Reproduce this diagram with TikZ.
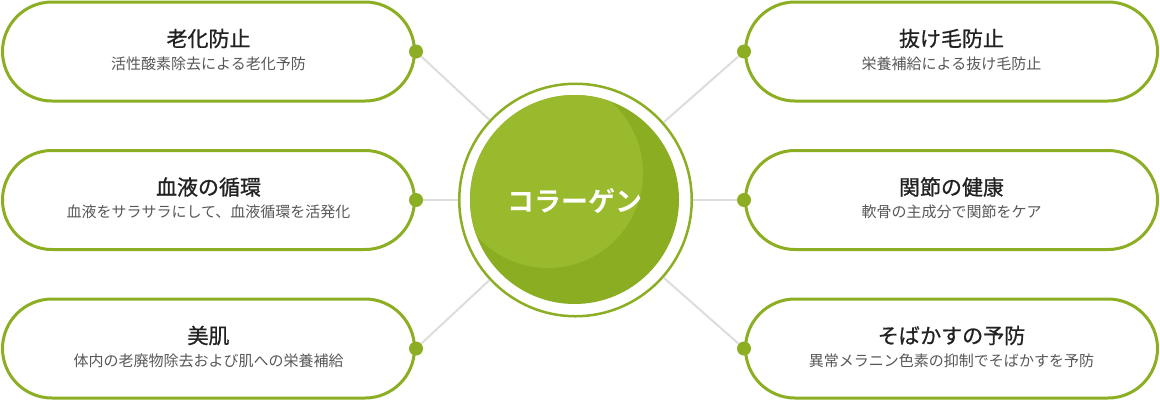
\documentclass[tikz,border=0pt]{standalone}
\usepackage{fontspec}
\newfontfamily\jp{Noto Sans CJK JP}
\newfontfamily\jpt[FakeBold=0.8]{Noto Sans CJK JP}
\newfontfamily\jpb{Noto Sans CJK JP Bold}
\definecolor{grn}{HTML}{8CAE22}
\definecolor{grndark}{HTML}{8BAD21}
\definecolor{grnlight}{HTML}{99BA2D}
\definecolor{conngray}{HTML}{DDDDDD}
\definecolor{titlec}{HTML}{222222}
\definecolor{subc}{HTML}{585858}
\begin{document}
\begin{tikzpicture}[x=1pt,y=-1pt,
  pill/.style={draw=grn, line width=3pt, fill=white, rounded corners=49.5pt,
    minimum width=412pt, minimum height=99pt, inner sep=0pt},
  dotnode/.style={circle, fill=grn, minimum size=14pt, inner sep=0pt},
  conn/.style={draw=conngray, line width=2pt},
  titletext/.style={font=\jpt\fontsize{21}{24}\selectfont, text=titlec, inner sep=0pt},
  subtext/.style={font=\jp\fontsize{15}{18}\selectfont, text=subc, inner sep=0pt},
  ring/.style={circle, draw=grn, line width=2.5pt, fill=white, minimum size=232.5pt, inner sep=0pt}
]
\useasboundingbox (0,0) rectangle (1160,400);
\fill[white] (0,0) rectangle (1160,400);

% pills
\node[pill] (p1) at (208.5,51.5) {};
\node[pill] (p2) at (208.5,200) {};
\node[pill] (p3) at (208.5,348.5) {};
\node[pill] (p4) at (951.5,51.5) {};
\node[pill] (p5) at (951.5,200) {};
\node[pill] (p6) at (951.5,348.5) {};

% texts
\node[titletext] (t1) at ([yshift=13pt]p1.center) {老化防止};
\node[subtext] (s1) at ([yshift=-12pt]p1.center) {活性酸素除去による老化予防};
\node[titletext] (t2) at ([yshift=13pt]p2.center) {血液の循環};
\node[subtext] (s2) at ([yshift=-12pt]p2.center) {血液をサラサラにして、血液循環を活発化};
\node[titletext] (t3) at ([yshift=13pt]p3.center) {美肌};
\node[subtext] (s3) at ([yshift=-12pt]p3.center) {体内の老廃物除去および肌への栄養補給};
\node[titletext] (t4) at ([yshift=13pt]p4.center) {抜け毛防止};
\node[subtext] (s4) at ([yshift=-12pt]p4.center) {栄養補給による抜け毛防止};
\node[titletext] (t5) at ([yshift=13pt]p5.center) {関節の健康};
\node[subtext] (s5) at ([yshift=-12pt]p5.center) {軟骨の主成分で関節をケア};
\node[titletext] (t6) at ([yshift=13pt]p6.center) {そばかすの予防};
\node[subtext] (s6) at ([yshift=-12pt]p6.center) {異常メラニン色素の抑制でそばかすを予防};

% dots
\node[dotnode] (d1) at (p1.east) {};
\node[dotnode] (d2) at (p2.east) {};
\node[dotnode] (d3) at (p3.east) {};
\node[dotnode] (d4) at (p4.west) {};
\node[dotnode] (d5) at (p5.west) {};
\node[dotnode] (d6) at (p6.west) {};

% center
\node[ring] (cc) at (575.5,200) {};
\fill[grndark] (574.5,199.5) circle (104.5pt);
\begin{scope}
  \clip (574.5,199.5) circle (104.5pt);
  \fill[grnlight] (548,173) circle (95pt);
\end{scope}
\node[font=\jpb\fontsize{27}{30}\selectfont, text=white, inner sep=0pt] (ct) at (575,201) {コラーゲン};

% connectors
\foreach \d in {d1,d2,d3,d4,d5,d6}
  \draw[conn] (\d) -- (cc);
\end{tikzpicture}
\end{document}
